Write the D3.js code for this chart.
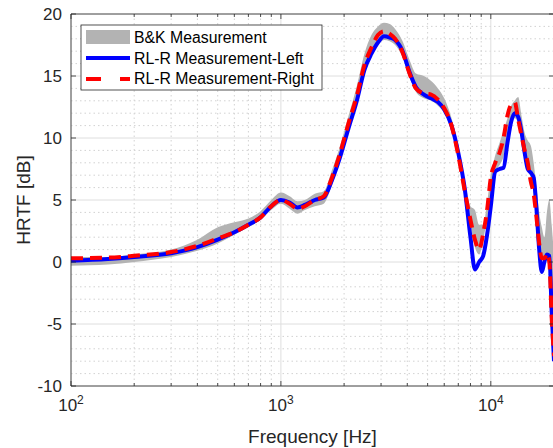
<!DOCTYPE html>
<html>
<head>
<meta charset="utf-8">
<script src="https://cdn.jsdelivr.net/npm/d3@7"></script>
<style>
  body { margin: 0; background: #fff; }
  svg { font-family: "Liberation Sans", Arial, sans-serif; }
</style>
</head>
<body>
<script>
// frequency grid (Hz)
var freq = [100, 150, 200, 300, 400, 500, 600, 700, 800, 900,
  1000, 1100, 1200, 1300, 1450, 1600, 1750, 1900, 2100, 2300,
  2500, 2700, 2900, 3100, 3300, 3500, 3800, 4100, 4400, 4800,
  5200, 5600, 6000, 6500, 7000, 7500, 8000, 8400, 8800, 9200,
  9600, 10000, 10500, 11000, 11500, 12000, 12500, 13000, 13500, 14000,
  14500, 15000, 15500, 16000, 16500, 17000, 17500, 18000, 18500, 19000,
  19500, 20000]

// RL-R measurement, left ear (dB)
var left = [0.1, 0.25, 0.4, 0.7, 1.2, 1.8, 2.4, 3.0, 3.6, 4.5,
  5.0, 4.8, 4.4, 4.6, 5.0, 5.2, 6.6, 8.3, 10.8, 13.0,
  15.5, 16.8, 17.7, 18.2, 18.1, 17.9, 17.0, 15.3, 14.1, 13.5,
  13.2, 12.9, 12.3, 11.0, 8.8, 6.0, 2.0, -0.6, 0.0, 0.5,
  2.2, 4.5, 7.3, 7.5, 7.6, 9.6, 11.3, 12.0, 11.7, 10.5,
  8.8, 7.5, 7.2, 6.8, 4.3, 1.0, -0.8, 0.0, 0.6, 0.5,
  -4.0, -8.0]

// RL-R measurement, right ear (dB)
var right = [0.3, 0.35, 0.5, 0.8, 1.3, 1.9, 2.4, 3.0, 3.6, 4.5,
  5.0, 4.7, 4.3, 4.5, 5.0, 5.3, 6.8, 8.6, 11.2, 13.4,
  15.9, 17.3, 18.3, 18.6, 18.4, 18.0, 16.9, 15.2, 14.0, 13.6,
  13.5, 13.1, 12.4, 11.0, 8.6, 5.8, 3.4, 1.8, 1.0, 2.3,
  4.2, 6.8, 8.0, 8.8, 10.0, 11.8, 12.7, 12.9, 11.5, 10.2,
  9.0, 8.0, 6.5, 5.5, 3.6, 1.5, 0.3, 0.3, 0.7, 0.0,
  -4.5, -7.6]

// B&K measurement spread (min / max, dB)
var bkLow = [-0.3, -0.2, 0.0, 0.4, 0.9, 1.5, 2.2, 2.8, 3.4, 4.2,
  4.7, 4.3, 3.9, 4.2, 4.5, 4.7, 6.2, 8.0, 10.4, 12.7,
  15.1, 16.6, 17.5, 17.9, 17.8, 17.5, 16.5, 14.9, 13.7, 13.2,
  13.0, 12.6, 12.0, 10.6, 8.3, 5.6, 3.0, 1.2, 0.6, 1.8,
  3.5, 5.5, 7.3, 7.8, 8.5, 10.0, 11.2, 11.6, 11.2, 9.8,
  8.6, 7.5, 6.8, 5.5, 3.2, 0.8, 0.2, 0.2, 0.3, -0.5,
  -4.5, -7.8]
var bkHigh = [0.4, 0.4, 0.6, 1.0, 1.8, 2.8, 3.2, 3.5, 4.1, 5.0,
  5.6, 5.3, 4.9, 5.0, 5.5, 5.7, 7.4, 9.2, 11.8, 14.2,
  16.8, 18.3, 19.0, 19.3, 19.2, 18.8, 17.8, 16.3, 15.2, 15.0,
  14.6, 14.0, 13.2, 11.6, 9.3, 6.6, 4.5, 4.2, 3.0, 3.0,
  4.8, 7.0, 8.6, 9.6, 10.6, 11.6, 12.6, 13.0, 13.3, 11.8,
  10.4, 9.8, 9.4, 8.0, 6.0, 4.0, 2.8, 2.0, 4.0, 5.0,
  3.0, 0.5]

var yTicks = [-10, -5, 0, 5, 10, 15, 20]
var xTicks = [100, 1000, 10000]
var seriesNames = ['B&K Measurement', 'RL-R Measurement-Left', 'RL-R Measurement-Right']

var W = 553
var H = 448
var margin = { left: 71, top: 14, right: 554, bottom: 386 }
var axisColor = '#262626'

var svg = d3.select('body').append('svg')
  .attr('width', W)
  .attr('height', H)

var x = d3.scaleLog().domain([100, 20000]).range([margin.left, margin.right])
var y = d3.scaleLinear().domain([-10, 20]).range([margin.bottom, margin.top])

var rows = freq.map(function (f, i) {
  return { f: f, l: left[i], r: right[i], lo: bkLow[i], hi: bkHigh[i] }
})

svg.append('clipPath').attr('id', 'plot')
  .append('rect')
  .attr('x', margin.left).attr('y', margin.top)
  .attr('width', margin.right - margin.left)
  .attr('height', margin.bottom - margin.top)

// minor grid
var minorX = []
;[100, 1000, 10000].forEach(function (d) {
  for (var k = 2; k <= 9; k++) if (d * k <= 20000) minorX.push(d * k)
})
var minorY = d3.range(-10, 21).filter(function (v) { return v % 5 !== 0 })

var grid = svg.append('g')
grid.selectAll('.mx').data(minorX).enter().append('line')
  .attr('x1', function (d) { return x(d) }).attr('x2', function (d) { return x(d) })
  .attr('y1', margin.top).attr('y2', margin.bottom)
  .attr('stroke', '#d2d2d2').attr('stroke-dasharray', '1.5,3')
grid.selectAll('.my').data(minorY).enter().append('line')
  .attr('y1', function (d) { return y(d) }).attr('y2', function (d) { return y(d) })
  .attr('x1', margin.left).attr('x2', margin.right)
  .attr('stroke', '#d2d2d2').attr('stroke-dasharray', '1.5,3')

// major grid
grid.selectAll('.gx').data(xTicks).enter().append('line')
  .attr('x1', function (d) { return x(d) }).attr('x2', function (d) { return x(d) })
  .attr('y1', margin.top).attr('y2', margin.bottom)
  .attr('stroke', '#dedede')
grid.selectAll('.gy').data(yTicks).enter().append('line')
  .attr('y1', function (d) { return y(d) }).attr('y2', function (d) { return y(d) })
  .attr('x1', margin.left).attr('x2', margin.right)
  .attr('stroke', '#dedede')

// data
var plot = svg.append('g').attr('clip-path', 'url(#plot)')

var area = d3.area()
  .x(function (d) { return x(d.f) })
  .y0(function (d) { return y(d.lo) })
  .y1(function (d) { return y(d.hi) })
  .curve(d3.curveMonotoneX)

plot.append('path').datum(rows)
  .attr('d', area)
  .attr('fill', '#b3b3b3')

var lineL = d3.line()
  .x(function (d) { return x(d.f) })
  .y(function (d) { return y(d.l) })
  .curve(d3.curveMonotoneX)
var lineR = d3.line()
  .x(function (d) { return x(d.f) })
  .y(function (d) { return y(d.r) })
  .curve(d3.curveMonotoneX)

plot.append('path').datum(rows)
  .attr('d', lineL)
  .attr('fill', 'none')
  .attr('stroke', '#0000ff')
  .attr('stroke-width', 4)
  .attr('stroke-linejoin', 'round')

plot.append('path').datum(rows)
  .attr('d', lineR)
  .attr('fill', 'none')
  .attr('stroke', '#ff0000')
  .attr('stroke-width', 4)
  .attr('stroke-dasharray', '12,7')

// axes box
var box = svg.append('g').attr('stroke', axisColor).attr('stroke-width', 0.8).attr('fill', 'none')
box.append('line').attr('x1', margin.left).attr('x2', margin.right).attr('y1', margin.top).attr('y2', margin.top)
box.append('line').attr('x1', margin.left).attr('x2', margin.right).attr('y1', margin.bottom).attr('y2', margin.bottom)
box.append('line').attr('x1', margin.left).attr('x2', margin.left).attr('y1', margin.top).attr('y2', margin.bottom)
box.append('line').attr('x1', margin.right).attr('x2', margin.right).attr('y1', margin.top).attr('y2', margin.bottom)

// ticks (inward)
yTicks.forEach(function (v) {
  box.append('line').attr('x1', margin.left).attr('x2', margin.left + 5)
    .attr('y1', y(v)).attr('y2', y(v))
  box.append('line').attr('x1', margin.right).attr('x2', margin.right - 5)
    .attr('y1', y(v)).attr('y2', y(v))
})
xTicks.forEach(function (v) {
  box.append('line').attr('x1', x(v)).attr('x2', x(v))
    .attr('y1', margin.bottom).attr('y2', margin.bottom - 5)
  box.append('line').attr('x1', x(v)).attr('x2', x(v))
    .attr('y1', margin.top).attr('y2', margin.top + 5)
})
minorX.forEach(function (v) {
  box.append('line').attr('x1', x(v)).attr('x2', x(v))
    .attr('y1', margin.bottom).attr('y2', margin.bottom - 3)
  box.append('line').attr('x1', x(v)).attr('x2', x(v))
    .attr('y1', margin.top).attr('y2', margin.top + 3)
})

// tick labels
svg.append('g').selectAll('text').data(yTicks).enter().append('text')
  .attr('x', margin.left - 9)
  .attr('y', function (d) { return y(d) + 6 })
  .attr('text-anchor', 'end')
  .attr('font-size', 17)
  .attr('fill', axisColor)
  .text(function (d) { return d })

var xl = svg.append('g').selectAll('text').data(xTicks).enter().append('text')
  .attr('x', function (d) { return x(d) })
  .attr('y', 411)
  .attr('text-anchor', 'middle')
  .attr('font-size', 17)
  .attr('fill', axisColor)
xl.append('tspan').text('10')
xl.append('tspan').attr('dy', -7).attr('font-size', 12)
  .text(function (d) { return Math.round(Math.log10(d)) })

// axis labels
svg.append('text')
  .attr('x', (margin.left + margin.right) / 2)
  .attr('y', 443)
  .attr('text-anchor', 'middle')
  .attr('font-size', 19)
  .attr('fill', axisColor)
  .text('Frequency [Hz]')

svg.append('text')
  .attr('transform', 'translate(30,' + (margin.top + margin.bottom) / 2 + ') rotate(-90)')
  .attr('text-anchor', 'middle')
  .attr('font-size', 19)
  .attr('fill', axisColor)
  .text('HRTF [dB]')

// legend
var lg = svg.append('g')
lg.append('rect')
  .attr('x', 81).attr('y', 25).attr('width', 241).attr('height', 65)
  .attr('fill', '#fff').attr('stroke', axisColor).attr('stroke-width', 0.8)
lg.append('rect')
  .attr('x', 86).attr('y', 30).attr('width', 44).attr('height', 14)
  .attr('fill', '#b3b3b3')
lg.append('line')
  .attr('x1', 86).attr('x2', 130).attr('y1', 58).attr('y2', 58)
  .attr('stroke', '#0000ff').attr('stroke-width', 4)
lg.append('line')
  .attr('x1', 86).attr('x2', 130).attr('y1', 79).attr('y2', 79)
  .attr('stroke', '#ff0000').attr('stroke-width', 4)
  .attr('stroke-dasharray', '15,19')
lg.selectAll('text').data(seriesNames).enter().append('text')
  .attr('x', 134)
  .attr('y', function (d, i) { return 43 + i * 20.7 })
  .attr('font-size', 15.8)
  .attr('fill', '#000')
  .text(function (d) { return d })
</script>
</body>
</html>
